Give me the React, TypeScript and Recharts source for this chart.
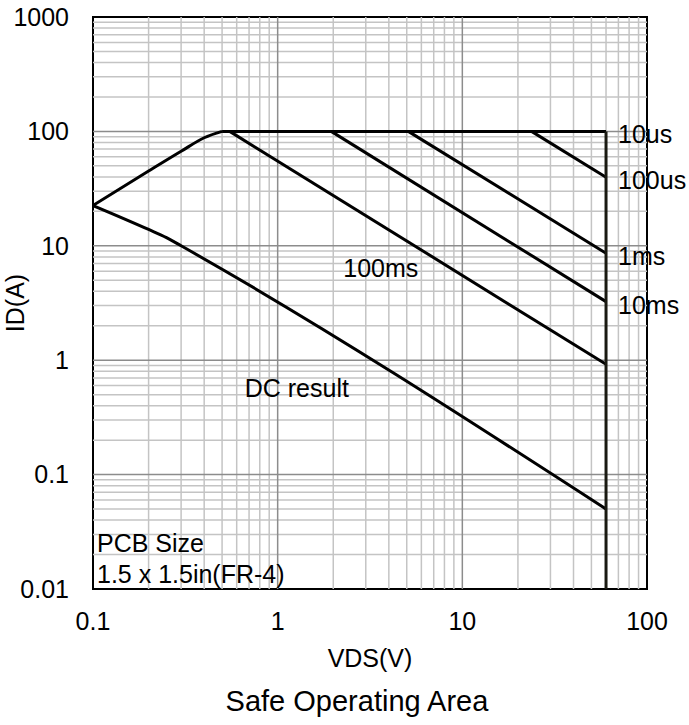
import { LineChart, Line, XAxis, YAxis, ReferenceLine, ReferenceArea, ReferenceDot, Label } from "recharts";

// axis ticks
const xTicks = [0.1, 1, 10, 100];
const yTicks = [0.01, 0.1, 1, 10, 100, 1000];
const xMajorGrid = [1, 10];
const yMajorGrid = [0.1, 1, 10, 100];
const xMinorGrid = [0.2, 0.3, 0.4, 0.5, 0.6, 0.7, 0.8, 0.9, 2, 3, 4, 5, 6, 7, 8, 9, 20, 30, 40, 50, 60, 70, 80, 90];
const yMinorGrid = [
  0.02, 0.03, 0.04, 0.05, 0.06, 0.07, 0.08, 0.09,
  0.2, 0.3, 0.4, 0.5, 0.6, 0.7, 0.8, 0.9,
  2, 3, 4, 5, 6, 7, 8, 9,
  20, 30, 40, 50, 60, 70, 80, 90,
  200, 300, 400, 500, 600, 700, 800, 900,
];

// RDS(on) limit
const rdsV = [0.1, 0.2, 0.3, 0.4, 0.5];
const rdsI = [22.5, 45, 67, 88, 100];
// 10us / current limit + VDS max
const limitV = [0.5, 60];
const limitI = [100, 100];
const vmaxV = [60, 60];
const vmaxI = [100, 0.01];
// pulse lines
const us100V = [23.7, 60];
const us100I = [100, 39.7];
const ms1V = [5.1, 60];
const ms1I = [100, 8.6];
const ms10V = [1.95, 60];
const ms10I = [100, 3.25];
const ms100V = [0.55, 60];
const ms100I = [100, 0.92];
const dcV = [0.1, 0.2, 0.25, 0.3, 60];
const dcI = [22.5, 13.9, 11.8, 10, 0.05];

const zip = (v: number[], i: number[]) => v.map((x, k) => ({ v: x, i: i[k] }));

const curved = [zip(rdsV, rdsI), zip(dcV, dcI)];
const straight = [
  zip(limitV, limitI),
  zip(us100V, us100I),
  zip(ms1V, ms1I),
  zip(ms10V, ms10I),
  zip(ms100V, ms100I),
];

const FS = 25;

export default function App() {
  return (
    <div style={{ position: "absolute", left: 0, top: 0, width: 689, height: 725, fontFamily: "'Liberation Sans', Arial, sans-serif", background: "#fff" }}>
      <LineChart width={689} height={725} margin={{ top: 17, right: 42, bottom: 0, left: 0 }}>
        <XAxis
          dataKey="v"
          type="number"
          scale="log"
          domain={[0.1, 100]}
          ticks={xTicks}
          allowDataOverflow
          height={136}
          axisLine={false}
          tickLine={false}
          tickSize={6}
          tickMargin={17}
          tick={{ fontSize: FS, fill: "#000" }}
        >
          <Label value="VDS(V)" position="insideTop" offset={60} fontSize={FS} fill="#000" />
        </XAxis>
        <YAxis
          type="number"
          scale="log"
          domain={[0.01, 1000]}
          ticks={yTicks}
          allowDataOverflow
          width={93}
          axisLine={false}
          tickLine={false}
          tickSize={6}
          tickMargin={18}
          tick={{ fontSize: FS, fill: "#000" }}
        >
          <Label value="ID(A)" angle={-90} position="center" dx={-31} fontSize={FS} fill="#000" />
        </YAxis>

        {xMinorGrid.map((x) => (
          <ReferenceLine key={"xm" + x} x={x} stroke="#c4c4c4" strokeWidth={1.5} />
        ))}
        {yMinorGrid.map((y) => (
          <ReferenceLine key={"ym" + y} y={y} stroke="#c4c4c4" strokeWidth={1.5} />
        ))}
        {xMajorGrid.map((x) => (
          <ReferenceLine key={"xM" + x} x={x} stroke="#8c8c8c" strokeWidth={1.5} />
        ))}
        {yMajorGrid.map((y) => (
          <ReferenceLine key={"yM" + y} y={y} stroke="#8c8c8c" strokeWidth={1.5} />
        ))}

        {curved.map((d, k) => (
          <Line
            key={"c" + k}
            data={d}
            dataKey="i"
            type="monotone"
            stroke="#000"
            strokeWidth={3}
            dot={false}
            activeDot={false}
            isAnimationActive={false}
          />
        ))}
        {straight.map((d, k) => (
          <Line
            key={"s" + k}
            data={d}
            dataKey="i"
            type="linear"
            stroke="#000"
            strokeWidth={3}
            dot={false}
            activeDot={false}
            isAnimationActive={false}
          />
        ))}
        <Line
          data={zip(vmaxV, vmaxI)}
          dataKey="i"
          type="linear"
          stroke="#1a1a12"
          strokeWidth={3}
          dot={false}
          activeDot={false}
          isAnimationActive={false}
        />

        <ReferenceArea x1={0.1} x2={100} y1={0.01} y2={1000} fill="none" stroke="#000" strokeWidth={2} />

        <ReferenceDot x={60} y={100} r={0} fill="none" stroke="none">
          <Label value="10us" position="right" offset={12} dy={3} fontSize={FS} fill="#000" />
        </ReferenceDot>
        <ReferenceDot x={60} y={39.7} r={0} fill="none" stroke="none">
          <Label value="100us" position="right" offset={12} dy={3} fontSize={FS} fill="#000" />
        </ReferenceDot>
        <ReferenceDot x={60} y={8.6} r={0} fill="none" stroke="none">
          <Label value="1ms" position="right" offset={12} dy={3} fontSize={FS} fill="#000" />
        </ReferenceDot>
        <ReferenceDot x={60} y={3.25} r={0} fill="none" stroke="none">
          <Label value="10ms" position="right" offset={12} dy={3} fontSize={FS} fill="#000" />
        </ReferenceDot>
        <ReferenceDot x={3.62} y={6.4} r={0} fill="none" stroke="none">
          <Label value="100ms" position="center" fontSize={FS} fill="#000" />
        </ReferenceDot>
        <ReferenceDot x={1.27} y={0.571} r={0} fill="none" stroke="none">
          <Label value="DC result" position="center" fontSize={FS} fill="#000" />
        </ReferenceDot>
        <ReferenceDot x={0.1} y={0.0252} r={0} fill="none" stroke="none">
          <Label value="PCB Size" position="right" offset={4} fontSize={FS} fill="#000" />
        </ReferenceDot>
        <ReferenceDot x={0.1} y={0.01352} r={0} fill="none" stroke="none">
          <Label value="1.5 x 1.5in(FR-4)" position="right" offset={4} fontSize={FS} fill="#000" />
        </ReferenceDot>
      </LineChart>
      <div style={{ position: "absolute", left: 0, top: 686, width: 714, textAlign: "center", fontSize: 29, lineHeight: "30px", color: "#000" }}>
        Safe Operating Area
      </div>
    </div>
  );
}
